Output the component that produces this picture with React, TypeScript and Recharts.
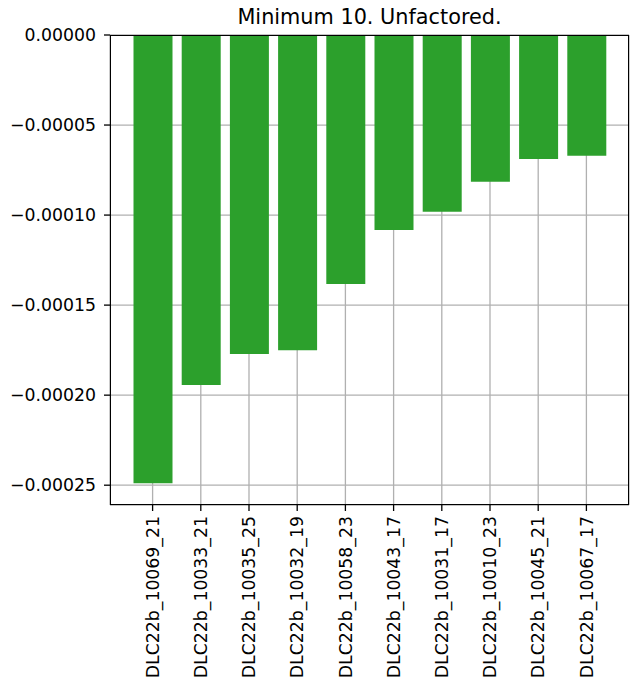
import React from 'react';
import { BarChart, Bar, XAxis, YAxis, CartesianGrid } from 'recharts';

const categories = [
  'DLC22b_10069_21',
  'DLC22b_10033_21',
  'DLC22b_10035_25',
  'DLC22b_10032_19',
  'DLC22b_10058_23',
  'DLC22b_10043_17',
  'DLC22b_10031_17',
  'DLC22b_10010_23',
  'DLC22b_10045_21',
  'DLC22b_10067_17',
];

const values = [
  -0.0002489, -0.0001943, -0.0001772, -0.000175, -0.0001383,
  -0.0001083, -0.0000981, -0.0000815, -0.0000689, -0.000067,
];

const yTicks = [0, -0.00005, -0.0001, -0.00015, -0.0002, -0.00025];

const data = categories.map((name, i) => ({ name, value: values[i] }));

const FONT = '"DejaVu Sans", sans-serif';

const fmtY = (v: number) => {
  const s = Math.abs(v).toFixed(5);
  return v < 0 ? '\u2212' + s : s;
};

const XTick = (props: any) => {
  const { x, y, payload } = props;
  return (
    <text
      x={0}
      y={0}
      transform={`translate(${x},${y + 3}) rotate(-90)`}
      textAnchor="end"
      dy="0.36em"
      fontSize={17.3}
      fontFamily={FONT}
      fill="#000"
    >
      {payload.value}
    </text>
  );
};

const App = () => {
  return (
    <div style={{ position: 'absolute', left: 0, top: 0, width: 634, height: 685, background: '#fff' }}>
      <div
        style={{
          position: 'absolute',
          left: 110,
          top: 5,
          width: 519,
          textAlign: 'center',
          fontFamily: FONT,
          fontSize: 20.8,
          lineHeight: '25px',
          color: '#000',
        }}
      >
        Minimum 10. Unfactored.
      </div>
      <BarChart
        width={634}
        height={685}
        data={data}
        margin={{ top: 35, right: 5, bottom: 5, left: 10 }}
      >
        <CartesianGrid stroke="#b0b0b0" strokeWidth={1.3} />
        <XAxis
          dataKey="name"
          interval={0}
          height={175}
          padding={{ left: 18.5, right: 18.5 }}
          axisLine={false}
          tickLine={{ stroke: '#000', strokeWidth: 1.3 }}
          tickSize={6}
          tick={<XTick />}
        />
        <YAxis
          type="number"
          domain={[-0.000261, 0]}
          ticks={yTicks}
          allowDataOverflow
          width={100}
          axisLine={false}
          tickLine={{ stroke: '#000', strokeWidth: 1.3 }}
          tickSize={6}
          tickMargin={8}
          tickFormatter={fmtY}
          tick={{ fontSize: 17.3, fontFamily: FONT, fill: '#000' }}
        />
        <Bar dataKey="value" fill="#2ca02c" barSize={39} isAnimationActive={false} />
      </BarChart>
      <div
        style={{
          position: 'absolute',
          left: 110,
          top: 35,
          width: 519,
          height: 470,
          boxSizing: 'border-box',
          border: '1.3px solid #000',
          pointerEvents: 'none',
        }}
      />
    </div>
  );
};

export default App;
